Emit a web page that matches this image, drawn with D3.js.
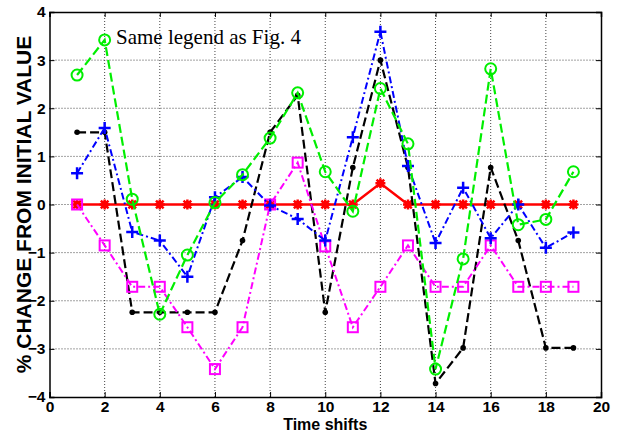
<!DOCTYPE html>
<html>
<head>
<meta charset="utf-8">
<script src="https://cdn.jsdelivr.net/npm/d3@7"></script>
<style>
  body { margin: 0; background: #fff; }
  svg { display: block; }
</style>
</head>
<body>
<svg id="chart"></svg>
<script>
// data
const shifts = d3.range(1, 20)
const redVals = [0, 0, 0, 0, 0, 0, 0, 0, 0, 0, 0, 0.44, 0, 0, 0, 0, 0, 0, 0]
const blackVals = [1.5, 1.5, -2.24, -2.24, -2.24, -2.24, -0.75, 1.5, 2.27, -2.24, 0.77, 3.0, 0.77, -3.72, -2.98, 0.77, -0.75, -2.98, -2.98]
const magentaVals = [0, -0.85, -1.71, -1.71, -2.55, -3.42, -2.55, 0, 0.87, -0.87, -2.55, -1.71, -0.85, -1.71, -1.71, -0.85, -1.71, -1.71, -1.71]
const blueVals = [0.65, 1.59, -0.57, -0.75, -1.5, 0.15, 0.57, -0.02, -0.3, -0.75, 1.4, 3.59, 0.8, -0.8, 0.35, -0.7, 0, -0.9, -0.58]
const greenVals = [2.69, 3.42, 0.11, -2.28, -1.05, 0.04, 0.62, 1.38, 2.32, 0.68, -0.14, 2.41, 1.26, -3.42, -1.13, 2.82, -0.42, -0.31, 0.68]
const xTicks = d3.range(0, 21, 2)
const yTicks = d3.range(-4, 5, 1)

const width = 623
const height = 433
const margin = { top: 12, right: 22, bottom: 36, left: 49.5 }

const svg = d3.select("#chart")
    .attr("width", width)
    .attr("height", height)

const x = d3.scaleLinear()
    .domain([0, 20])
    .range([margin.left, width - margin.right])

const y = d3.scaleLinear()
    .domain([-4, 4])
    .range([height - margin.bottom, margin.top])

// grid
const grid = svg.append("g")
    .attr("stroke", "#444")
    .attr("stroke-width", 1)
    .attr("stroke-dasharray", "1,2")

grid.selectAll(".gx")
  .data(xTicks.filter(d => d > 0 && d < 20))
  .join("line")
    .attr("x1", d => x(d)).attr("x2", d => x(d))
    .attr("y1", y(4)).attr("y2", y(-4))

grid.selectAll(".gy")
  .data(yTicks.filter(d => d > -4 && d < 4))
  .join("line")
    .attr("x1", x(0)).attr("x2", x(20))
    .attr("y1", d => y(d)).attr("y2", d => y(d))

// axes, ticks inside on all four sides
const tickLen = -5
svg.append("g")
    .attr("transform", `translate(0,${y(-4)})`)
    .call(d3.axisBottom(x).tickValues(xTicks).tickSize(tickLen).tickPadding(4))
svg.append("g")
    .attr("transform", `translate(0,${y(4)})`)
    .call(d3.axisTop(x).tickValues(xTicks).tickSize(tickLen).tickFormat(""))
svg.append("g")
    .attr("transform", `translate(${x(0)},0)`)
    .call(d3.axisLeft(y).tickValues(yTicks).tickSize(tickLen).tickPadding(4))
svg.append("g")
    .attr("transform", `translate(${x(20)},0)`)
    .call(d3.axisRight(y).tickValues(yTicks).tickSize(tickLen).tickFormat(""))

svg.selectAll(".domain").attr("stroke", "#000").attr("stroke-width", 1.5)
svg.selectAll(".tick line").attr("stroke", "#000").attr("stroke-width", 1)
svg.selectAll(".tick text")
    .attr("fill", "#000")
    .style("font", "bold 15.5px 'Liberation Sans', Arial, sans-serif")

// series
const line = d3.line()
    .x((d, i) => x(shifts[i]))
    .y(d => y(d))

const series = [
  { vals: redVals, color: "#ff0000", dash: null, width: 2.5, marker: "star" },
  { vals: blackVals, color: "#000000", dash: "9,4", width: 2.2, marker: "dot" },
  { vals: magentaVals, color: "#ff00ff", dash: "7,3,2,3", width: 2, marker: "square" },
  { vals: blueVals, color: "#0000ff", dash: "7,3,2,3", width: 2, marker: "plus" },
  { vals: greenVals, color: "#00ee00", dash: "9,4", width: 2.2, marker: "circle" },
]

series.forEach(s => {
  const g = svg.append("g")
  g.append("path")
    .datum(s.vals)
    .attr("d", line)
    .attr("fill", "none")
    .attr("stroke", s.color)
    .attr("stroke-width", s.width)
    .attr("stroke-dasharray", s.dash)

  const m = g.selectAll(".m")
    .data(s.vals)
    .join("g")
      .attr("transform", (d, i) => `translate(${x(shifts[i])},${y(d)})`)

  if (s.marker === "star") {
    m.append("circle").attr("r", 3.5).attr("fill", s.color)
    m.append("path")
      .attr("d", "M-5,0H5M0,-5V5M-3.8,-3.8L3.8,3.8M-3.8,3.8L3.8,-3.8")
      .attr("stroke", s.color).attr("stroke-width", 2.5)
  } else if (s.marker === "dot") {
    m.append("circle").attr("r", 2.8).attr("fill", s.color)
  } else if (s.marker === "square") {
    m.append("rect")
      .attr("x", -5).attr("y", -5).attr("width", 10).attr("height", 10)
      .attr("fill", "none").attr("stroke", s.color).attr("stroke-width", 2)
  } else if (s.marker === "plus") {
    m.append("path")
      .attr("d", "M-6,0H6M0,-6V6")
      .attr("stroke", s.color).attr("stroke-width", 2.5)
  } else if (s.marker === "circle") {
    m.append("circle").attr("r", 5.5)
      .attr("fill", "none").attr("stroke", s.color).attr("stroke-width", 2)
  }
})

// labels
svg.append("text")
    .attr("x", (x(0) + x(20)) / 2)
    .attr("y", 430)
    .attr("text-anchor", "middle")
    .style("font", "bold 16px 'Liberation Sans', Arial, sans-serif")
    .text("Time shifts")

svg.append("text")
    .attr("transform", `translate(31,${(y(-4) + y(4)) / 2}) rotate(-90)`)
    .attr("text-anchor", "middle")
    .style("font", "bold 21px 'Liberation Sans', Arial, sans-serif")
    .text("% CHANGE FROM INITIAL VALUE")

svg.append("text")
    .attr("x", 116)
    .attr("y", 43.5)
    .style("font", "21px 'Liberation Serif', 'Times New Roman', serif")
    .text("Same legend as Fig. 4")
</script>
</body>
</html>
